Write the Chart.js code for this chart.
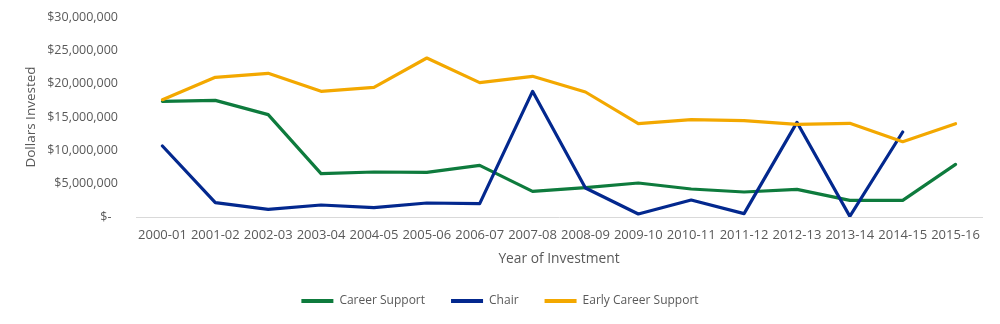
<!DOCTYPE html>
<html>
<head>
<meta charset="utf-8">
<script src="https://cdn.jsdelivr.net/npm/chart.js@4.4.1/dist/chart.umd.min.js"></script>
<style>
  html, body { margin: 0; padding: 0; background: #ffffff; }
  #wrap { width: 1000px; height: 324px; position: relative; }
</style>
</head>
<body>
<div id="wrap"><canvas id="chart" width="1000" height="324"></canvas></div>
<script>
// Investment by program type, per fiscal year (dollars)
const years = ['2000-01', '2001-02', '2002-03', '2003-04', '2004-05', '2005-06', '2006-07', '2007-08',
               '2008-09', '2009-10', '2010-11', '2011-12', '2012-13', '2013-14', '2014-15', '2015-16'];
const careerSupport = [17350000, 17500000, 15350000, 6500000, 6750000, 6700000, 7750000, 3850000,
                       4400000, 5100000, 4200000, 3750000, 4150000, 2500000, 2500000, 7900000];
const chair = [10650000, 2150000, 1150000, 1800000, 1400000, 2100000, 2000000, 18850000,
               4350000, 450000, 2550000, 500000, 14200000, 100000, 12750000, null];
const earlyCareerSupport = [17600000, 20950000, 21550000, 18850000, 19450000, 23850000, 20150000, 21100000,
                            18750000, 14000000, 14600000, 14450000, 13900000, 14050000, 11300000, 14000000];
const yTicks = [0, 5000000, 10000000, 15000000, 20000000, 25000000, 30000000];

const GREEN = '#0E7B3D';
const BLUE = '#03288E';
const GOLD = '#F3A800';
const TEXT = '#595959';
const FONT = "'Open Sans', sans-serif";

function series(label, data, color, order) {
  return {
    label, data, order,
    borderColor: color,
    backgroundColor: color,
    borderWidth: 3.2,
    pointRadius: 0,
    pointHoverRadius: 0,
    tension: 0,
    fill: false,
    borderJoinStyle: 'round',
    borderCapStyle: 'round'
  };
}

new Chart(document.getElementById('chart'), {
  type: 'line',
  data: {
    labels: years,
    datasets: [
      series('Career Support', careerSupport, GREEN, 3),
      series('Chair', chair, BLUE, 2),
      series('Early Career Support', earlyCareerSupport, GOLD, 1)
    ]
  },
  options: {
    responsive: false,
    animation: false,
    layout: { padding: { left: 18, right: 18, top: 17, bottom: 7 } },
    plugins: {
      tooltip: { enabled: false },
      legend: {
        position: 'bottom',
        labels: {
          color: TEXT,
          font: { family: FONT, size: 12 },
          boxWidth: 32,
          boxHeight: 4,
          padding: 26,
          sort: (a, b) => a.datasetIndex - b.datasetIndex,
          generateLabels: (chart) =>
            Chart.defaults.plugins.legend.labels.generateLabels(chart)
              .map(item => Object.assign(item, { lineWidth: 0, fillStyle: item.strokeStyle }))
        }
      }
    },
    scales: {
      x: {
        offset: true,
        grid: { display: false, drawTicks: false },
        border: { display: true, color: '#D9D9D9', width: 1 },
        ticks: {
          color: TEXT,
          font: { family: FONT, size: 13 },
          padding: 10,
          maxRotation: 0,
          autoSkip: false
        },
        title: {
          display: true,
          text: 'Year of Investment',
          color: TEXT,
          font: { family: FONT, size: 13.8 },
          padding: { top: 0, bottom: 2 }
        },
        afterFit: (scale) => { scale.height = 52; }
      },
      y: {
        min: 0,
        max: 30000000,
        grid: { display: false, drawTicks: false },
        border: { display: false },
        afterBuildTicks: (scale) => { scale.ticks = yTicks.map(v => ({ value: v })); },
        ticks: {
          color: TEXT,
          font: { family: FONT, size: 12.5 },
          padding: 18,
          callback: (v) => v === 0 ? '$-  ' : '$' + Number(v).toLocaleString('en-US')
        },
        title: {
          display: true,
          text: 'Dollars Invested',
          color: TEXT,
          font: { family: FONT, size: 13.5 },
          padding: { top: 5, bottom: 0 }
        },
        afterFit: (scale) => {
          scale.width = 118;
          scale.paddingTop = 0;
          scale.paddingBottom = 0;
        }
      }
    }
  }
});
</script>
</body>
</html>
